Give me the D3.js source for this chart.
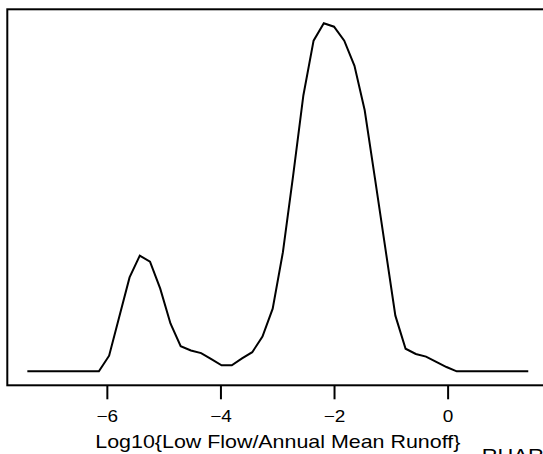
<!DOCTYPE html>
<html>
<head>
<meta charset="utf-8">
<script src="https://cdn.jsdelivr.net/npm/d3@7"></script>
<style>
  html, body { margin: 0; padding: 0; background: #fff; }
  svg { display: block; }
  text { font-family: "Liberation Sans", Arial, Helvetica, sans-serif; fill: #000; }
</style>
</head>
<body>
<svg id="chart" width="543" height="454"></svg>
<script>
// Grid of log10 values (x) and estimated density (y)
const xValues = [
  -7.40, -7.22, -7.04, -6.86, -6.68, -6.50, -6.32, -6.14, -5.96, -5.78,
  -5.60, -5.42, -5.24, -5.06, -4.88, -4.70, -4.52, -4.34, -4.16, -3.98,
  -3.80, -3.62, -3.44, -3.26, -3.08, -2.90, -2.72, -2.54, -2.36, -2.18,
  -2.00, -1.82, -1.64, -1.46, -1.28, -1.10, -0.92, -0.74, -0.56, -0.38,
  -0.20, -0.02, 0.16, 0.34, 0.52, 0.70, 0.88, 1.06, 1.24, 1.42
];
const densityValues = [
  0, 0, 0, 0, 0, 0, 0, 0, 0.018, 0.063,
  0.108, 0.133, 0.126, 0.095, 0.055, 0.029, 0.024, 0.021, 0.014, 0.007,
  0.007, 0.015, 0.022, 0.040, 0.072, 0.137, 0.225, 0.317, 0.380, 0.400,
  0.396, 0.380, 0.351, 0.300, 0.222, 0.143, 0.064, 0.026, 0.020, 0.017,
  0.011, 0.005, 0.000, 0, 0, 0, 0, 0, 0, 0
];
const xTicks = [-6, -4, -2, 0];
const xTitle = "Log10{Low Flow/Annual Mean Runoff}";
const cornerLabel = "RHAR";

const svg = d3.select("#chart");
const plot = { left: 7.3, right: 548.3, top: 9.3, bottom: 385.3 };

const xMin = d3.min(xValues), xMax = d3.max(xValues);
const xPad = (xMax - xMin) * 0.04;
const x = d3.scaleLinear().domain([xMin - xPad, xMax + xPad]).range([plot.left, plot.right]);

const yMin = d3.min(densityValues), yMax = d3.max(densityValues);
const yPad = (yMax - yMin) * 0.04;
const y = d3.scaleLinear().domain([yMin - yPad, yMax + yPad]).range([plot.bottom, plot.top]);

// Box
svg.append("rect")
  .attr("x", plot.left).attr("y", plot.top)
  .attr("width", plot.right - plot.left).attr("height", plot.bottom - plot.top)
  .attr("fill", "none").attr("stroke", "#000").attr("stroke-width", 2);

// Curve
const pts = xValues.map((v, i) => [v, densityValues[i]]);
svg.append("path")
  .datum(pts)
  .attr("fill", "none").attr("stroke", "#000").attr("stroke-width", 2)
  .attr("stroke-linejoin", "miter")
  .attr("d", d3.line().x(d => x(d[0])).y(d => y(d[1])));

// X axis (ticks + labels)
const axis = d3.axisBottom(x).tickValues(xTicks).tickSize(14).tickPadding(0)
  .tickFormat(d => d3.format("d")(d).replace("-", "\u2212"));
const g = svg.append("g").attr("transform", `translate(0,${plot.bottom})`).call(axis);
g.attr("font-size", null).attr("font-family", null);
g.select(".domain").remove();
g.selectAll(".tick line").attr("stroke", "#000").attr("stroke-width", 2);
g.selectAll(".tick text")
  .attr("y", 0).attr("dy", 0)
  .style("font-size", "16.5px")
  .style("font-family", '"Liberation Sans", Arial, sans-serif')
  .attr("transform", "translate(0,37) scale(1.15,1)")
  .attr("fill", "#000");

// Axis title
svg.append("text")
  .attr("x", (plot.left + plot.right) / 2)
  .attr("y", 448.3)
  .attr("text-anchor", "middle")
  .style("font-size", "18.5px")
  .attr("textLength", 365)
  .attr("lengthAdjust", "spacingAndGlyphs")
  .text(xTitle);

// Corner label (partly cut off, as in the reference)
svg.append("text")
  .attr("x", 481.7)
  .attr("y", 461.5)
  .style("font-size", "18.5px")
  .attr("textLength", 62)
  .attr("lengthAdjust", "spacingAndGlyphs")
  .text(cornerLabel);
</script>
</body>
</html>
